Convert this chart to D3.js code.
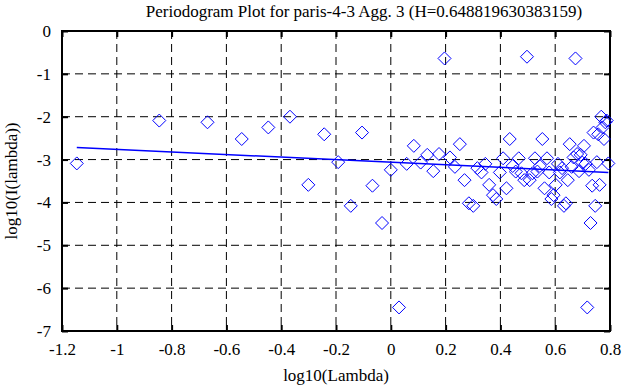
<!DOCTYPE html>
<html>
<head>
<meta charset="utf-8">
<script src="https://cdn.jsdelivr.net/npm/d3@7"></script>
<style>
  body { margin: 0; background: #fff; }
  svg { display: block; }
  text { font-family: "Liberation Serif", "DejaVu Serif", serif; fill: #000; }
</style>
</head>
<body>
<svg id="chart"></svg>
<script>
const title = "Periodogram Plot for paris-4-3 Agg. 3 (H=0.648819630383159)";
const xTicks = [-1.2, -1, -0.8, -0.6, -0.4, -0.2, 0, 0.2, 0.4, 0.6, 0.8];
const xTickLabels = ["-1.2", "-1", "-0.8", "-0.6", "-0.4", "-0.2", "0", "0.2", "0.4", "0.6", "0.8"];
const yTicks = [0, -1, -2, -3, -4, -5, -6, -7];
const yTickLabels = ["0", "-1", "-2", "-3", "-4", "-5", "-6", "-7"];

// log10(lambda) for each frequency
const logLambda = [
  -1.146, -0.845, -0.669, -0.544, -0.447, -0.368, -0.301, -0.243, -0.192, -0.146,
  -0.105, -0.067, -0.032, 0.000, 0.030, 0.058, 0.084, 0.109, 0.133, 0.155,
  0.176, 0.196, 0.216, 0.234, 0.252, 0.269, 0.285, 0.301, 0.316, 0.331,
  0.345, 0.359, 0.373, 0.385, 0.398, 0.410, 0.422, 0.434, 0.445, 0.456,
  0.467, 0.477, 0.487, 0.497, 0.507, 0.517, 0.526, 0.535, 0.544, 0.553,
  0.561, 0.570, 0.578, 0.586, 0.594, 0.602, 0.610, 0.617, 0.625, 0.632,
  0.639, 0.646, 0.653, 0.660, 0.667, 0.674, 0.680, 0.687, 0.693, 0.699,
  0.705, 0.711, 0.717, 0.723, 0.729, 0.735, 0.740, 0.746, 0.752, 0.757,
  0.762, 0.768, 0.773, 0.778, 0.783, 0.788, 0.794
];
// log10(I(lambda))
const logI = [
  -3.09, -2.09, -2.13, -2.52, -2.25, -2.00, -3.59, -2.41, -3.06, -4.08,
  -2.37, -3.61, -4.48, -3.24, -6.45, -3.10, -2.68, -3.07, -2.89, -3.27,
  -2.87, -0.64, -2.95, -3.17, -2.64, -3.48, -4.02, -4.08, -3.20, -3.30,
  -3.10, -3.59, -3.83, -3.92, -3.30, -2.97, -3.67, -2.52, -3.15, -3.28,
  -2.97, -3.32, -3.48, -0.60, -3.48, -3.32, -2.97, -3.28, -3.15, -2.52,
  -3.67, -2.97, -3.30, -3.92, -3.83, -3.59, -3.10, -3.30, -3.20, -4.08,
  -4.02, -3.48, -2.64, -3.17, -2.95, -0.64, -2.87, -3.27, -2.89, -3.07,
  -2.68, -3.10, -6.45, -3.24, -4.48, -3.61, -2.37, -4.08, -3.06, -2.41,
  -3.59, -2.00, -2.25, -2.52, -2.13, -2.09, -3.09
];
// fitted line end points
const fitX = [-1.146, 0.794];
const fitY = [-2.72, -3.30];

const width = 638, height = 387;
const margin = { top: 31, right: 28, bottom: 56, left: 62 };

const svg = d3.select("#chart")
  .attr("width", width)
  .attr("height", height);

const x = d3.scaleLinear().domain([-1.2, 0.8]).range([margin.left, width - margin.right]);
const y = d3.scaleLinear().domain([-7, 0]).range([height - margin.bottom, margin.top]);

const x0 = x.range()[0], x1 = x.range()[1];
const y0 = y.range()[1], y1 = y.range()[0];

// grid
const grid = svg.append("g")
  .attr("stroke", "#000")
  .attr("stroke-width", 1)
  .attr("stroke-dasharray", "8,5");

grid.selectAll("line.gx")
  .data(xTicks.slice(1, -1))
  .enter().append("line")
  .attr("class", "gx")
  .attr("x1", d => x(d)).attr("x2", d => x(d))
  .attr("y1", y0).attr("y2", y1);

grid.selectAll("line.gy")
  .data(yTicks.slice(1, -1))
  .enter().append("line")
  .attr("class", "gy")
  .attr("x1", x0).attr("x2", x1)
  .attr("y1", d => y(d)).attr("y2", d => y(d));

// axes with inward ticks
const fmtX = d => xTickLabels[xTicks.indexOf(d)];
const fmtY = d => yTickLabels[yTicks.indexOf(d)];

const styleAxis = g => {
  g.select(".domain").remove();
  g.selectAll(".tick line").attr("stroke", "#000").attr("stroke-width", 2);
  g.selectAll(".tick text").attr("font-size", "17px")
    .attr("font-family", "Liberation Serif, serif").attr("fill", "#000");
};

svg.append("g")
  .attr("transform", `translate(0,${y1})`)
  .call(d3.axisBottom(x).tickValues(xTicks).tickFormat(fmtX).tickSize(-6).tickPadding(12))
  .call(styleAxis);

svg.append("g")
  .attr("transform", `translate(0,${y0})`)
  .call(d3.axisTop(x).tickValues(xTicks).tickFormat("").tickSize(-6))
  .call(styleAxis);

svg.append("g")
  .attr("transform", `translate(${x0},0)`)
  .call(d3.axisLeft(y).tickValues(yTicks).tickFormat(fmtY).tickSize(-6).tickPadding(11))
  .call(styleAxis);

svg.append("g")
  .attr("transform", `translate(${x1},0)`)
  .call(d3.axisRight(y).tickValues(yTicks).tickFormat("").tickSize(-6))
  .call(styleAxis);

// frame
svg.append("rect")
  .attr("x", x0).attr("y", y0)
  .attr("width", x1 - x0).attr("height", y1 - y0)
  .attr("fill", "none")
  .attr("stroke", "#000")
  .attr("stroke-width", 2);

// points
const r = 6.5;
const points = logLambda.map((d, i) => ({ lx: d, ly: logI[i] }));
svg.append("g")
  .selectAll("path")
  .data(points)
  .enter().append("path")
  .attr("d", d => {
    const cx = x(d.lx), cy = y(d.ly);
    return `M${cx},${cy - r}L${cx + r},${cy}L${cx},${cy + r}L${cx - r},${cy}Z`;
  })
  .attr("fill", "none")
  .attr("stroke", "#0000ff")
  .attr("stroke-width", 1);

// fitted line
svg.append("path")
  .datum(fitX.map((d, i) => [d, fitY[i]]))
  .attr("d", d3.line().x(d => x(d[0])).y(d => y(d[1])))
  .attr("fill", "none")
  .attr("stroke", "#0000ff")
  .attr("stroke-width", 1.5);

// title and labels
svg.append("text")
  .attr("x", 364).attr("y", 17)
  .attr("text-anchor", "middle")
  .attr("font-size", "17px")
  .text(title);

svg.append("text")
  .attr("x", (x0 + x1) / 2).attr("y", 381)
  .attr("text-anchor", "middle")
  .attr("font-size", "17px")
  .text("log10(Lambda)");

svg.append("text")
  .attr("transform", `translate(17,${(y0 + y1) / 2}) rotate(-90)`)
  .attr("text-anchor", "middle")
  .attr("font-size", "17px")
  .text("log10(I(lambda))");
</script>
</body>
</html>
